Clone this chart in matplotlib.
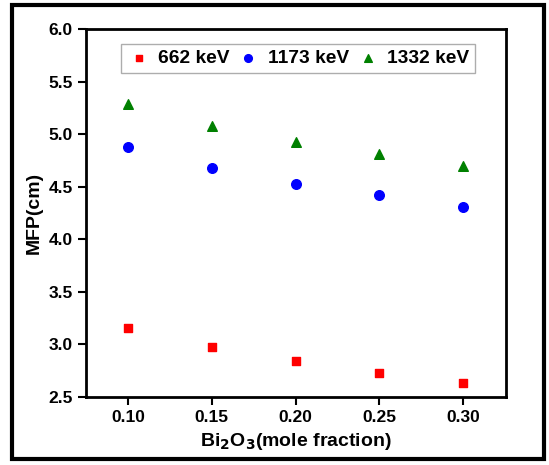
import matplotlib
matplotlib.use("Agg")
import matplotlib.pyplot as plt
from matplotlib.patches import Rectangle

x = [0.10, 0.15, 0.20, 0.25, 0.30]
mfp_662 = [3.16, 2.98, 2.84, 2.73, 2.63]
mfp_1173 = [4.88, 4.68, 4.53, 4.42, 4.31]
mfp_1332 = [5.29, 5.08, 4.93, 4.81, 4.70]

plt.rcParams['font.family'] = ['Liberation Sans', 'DejaVu Sans']
plt.rcParams['font.weight'] = 'bold'

fig = plt.figure(figsize=(5.49, 4.65), dpi=100)
ax = fig.add_axes([86/549, 1 - 397/465, 420/549, 368/465])

ax.scatter(x, mfp_662, marker='s', s=38, color='#ff0000', label='662 keV')
ax.scatter(x, mfp_1173, marker='o', s=48, color='#0000ff', label='1173 keV')
ax.scatter(x, mfp_1332, marker='^', s=48, color='#008000', label='1332 keV')

ax.set_xlim(0.075, 0.3255)
ax.set_ylim(2.5, 6.0)
ax.set_xticks(x)
ax.set_xticklabels(['0.10', '0.15', '0.20', '0.25', '0.30'])
ax.set_yticks([2.5, 3.0, 3.5, 4.0, 4.5, 5.0, 5.5, 6.0])
ax.tick_params(direction='out', length=6, width=1.5, labelsize=12.5)
for lab in ax.get_xticklabels() + ax.get_yticklabels():
    lab.set_fontweight('bold')
for sp in ax.spines.values():
    sp.set_linewidth(2)

ax.set_xlabel(r'Bi$_2$O$_3$(mole fraction)', fontsize=14, fontweight='bold')
ax.set_ylabel('MFP(cm)', fontsize=14, fontweight='bold')

leg = ax.legend(loc='upper center', ncol=3, fontsize=13.8, frameon=True,
                fancybox=False, edgecolor='#999999', handletextpad=0.4,
                columnspacing=0.4, borderpad=0.3, handlelength=1.2,
                markerscale=0.8, bbox_to_anchor=(0.505, 0.985))
leg.get_frame().set_linewidth(1)

fig.patches.append(Rectangle((12/549, 6/465), 532/549, 454/465,
                             transform=fig.transFigure, fill=False,
                             edgecolor='black', linewidth=3))

fig.savefig('out.png', dpi=100)
